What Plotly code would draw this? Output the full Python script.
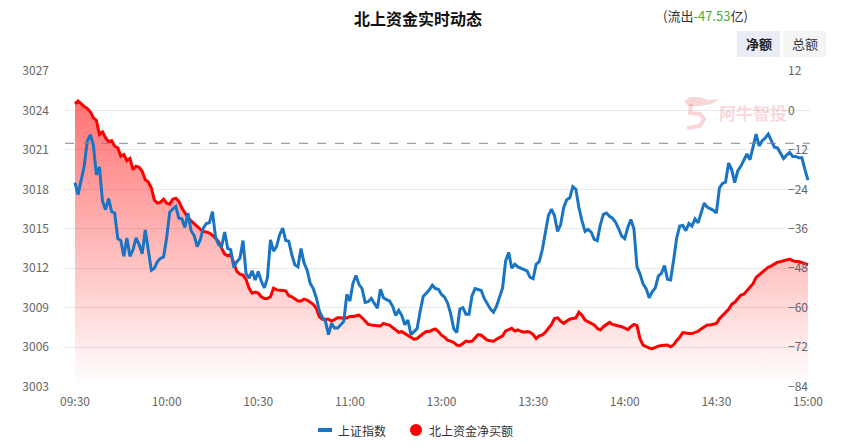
import plotly.graph_objects as go

# ---------------- data ----------------
# minutes since 09:30 on the trading clock (lunch break removed; 120 = 11:30/13:00)
tick_minutes = [0, 30, 60, 90, 120, 150, 180, 210, 240]
tick_labels = ["09:30", "10:00", "10:30", "11:00", "13:00", "13:30", "14:00", "14:30", "15:00"]

left_ticks = [3003, 3006, 3009, 3012, 3015, 3018, 3021, 3024, 3027]
right_ticks = [-84, -72, -60, -48, -36, -24, -12, 0, 12]
prev_close = 3021.5
net_flow_total = "-47.53"

index_min = [0, 1, 3, 4, 5, 6, 7, 8, 9, 10, 11, 12, 13, 14, 15, 16, 17, 18, 19, 20,
             21, 22, 23, 24, 25, 26, 27, 28, 29, 30, 31, 32, 33, 34, 35, 36, 37, 38, 39, 40,
             41, 42, 43, 44, 45, 46, 47, 48, 49, 50, 51, 52, 53, 54, 55, 56, 57, 58, 59, 60,
             61, 62, 63, 64, 65, 66, 67, 68, 69, 70, 71, 72, 73, 74, 75, 76, 77, 78, 79, 80,
             81, 82, 83, 84, 85, 86, 87, 88, 89, 90, 91, 92, 93, 94, 95, 96, 97, 98, 99, 100,
             101, 102, 103, 104, 105, 106, 107, 108, 109, 110, 111, 112, 113, 114, 115, 116, 117, 118, 119, 120,
             121, 122, 123, 124, 125, 126, 127, 128, 129, 130, 131, 132, 133, 134, 135, 136, 137, 138, 139, 140,
             141, 142, 143, 144, 145, 146, 147, 148, 149, 150, 151, 152, 153, 154, 155, 156, 157, 158, 159, 160,
             161, 162, 163, 164, 165, 166, 167, 168, 169, 170, 171, 172, 173, 174, 175, 176, 177, 178, 179, 180,
             181, 182, 183, 184, 185, 186, 187, 188, 189, 190, 191, 192, 193, 194, 195, 196, 197, 198, 199, 200,
             201, 202, 203, 204, 205, 206, 207, 208, 209, 210, 211, 212, 213, 214, 215, 216, 217, 218, 219, 220,
             221, 222, 223, 224, 225, 226, 227, 228, 229, 230, 231, 232, 233, 234, 235, 236, 237, 238, 239, 240]
index_val = [3018.5, 3017.6, 3019.75, 3021.65, 3022.15, 3021.4, 3019.1, 3019.7, 3017.1, 3016.45,
             3017.3, 3016.3, 3016.2, 3014.25, 3014.1, 3012.9, 3014.3, 3012.9, 3013.4, 3014.3,
             3013.8, 3013.1, 3014.9, 3013.5, 3011.85, 3012.0, 3012.5, 3012.75, 3012.85, 3014.3,
             3016.25, 3016.5, 3016.7, 3015.8, 3015.75, 3015.1, 3016.2, 3014.85, 3014.5, 3013.65,
             3014.15, 3015.05, 3015.4, 3015.45, 3016.3, 3014.4, 3013.8, 3013.65, 3014.75, 3013.5,
             3013.4, 3012.05, 3012.5, 3012.75, 3014.1, 3011.6, 3011.25, 3011.8, 3011.1, 3011.75,
             3011.0, 3010.5, 3011.25, 3014.15, 3013.3, 3013.65, 3014.55, 3015.05, 3014.1, 3014.05,
             3013.0, 3012.25, 3012.1, 3013.5, 3012.4, 3011.85, 3010.85, 3010.45, 3009.75, 3008.75,
             3008.25, 3007.95, 3006.95, 3007.8, 3007.45, 3007.45, 3007.7, 3007.95, 3010.0, 3009.5,
             3010.85, 3011.45, 3010.75, 3010.45, 3009.4, 3009.45, 3009.7, 3009.35, 3008.95, 3010.4,
             3009.75, 3009.6, 3009.5, 3009.1, 3008.4, 3008.8, 3008.4, 3007.7, 3008.05, 3006.95,
             3007.2, 3007.4, 3008.7, 3009.85, 3010.1, 3010.35, 3010.7, 3010.45, 3010.4, 3010.0,
             3009.8, 3009.35, 3008.55, 3007.4, 3007.1, 3008.9, 3009.0, 3008.5, 3008.5, 3009.9,
             3010.45, 3010.4, 3010.3, 3009.7, 3009.3, 3008.9, 3008.65, 3009.1, 3009.8, 3010.5,
             3012.55, 3013.2, 3012.0, 3012.3, 3012.1, 3012.0, 3011.95, 3011.8, 3011.3, 3011.2,
             3012.3, 3012.5, 3013.4, 3014.8, 3016.0, 3016.5, 3016.0, 3014.8, 3015.3, 3016.6,
             3017.2, 3017.35, 3018.2, 3018.0, 3016.6, 3015.6, 3014.8, 3014.95, 3014.75, 3014.2,
             3014.1, 3015.3, 3016.1, 3016.2, 3015.95, 3015.8, 3015.5, 3015.0, 3014.45, 3014.25,
             3015.1, 3015.7, 3015.0, 3012.1, 3011.55, 3010.8, 3010.45, 3009.75, 3010.2, 3010.5,
             3011.4, 3011.6, 3012.2, 3011.15, 3011.1, 3012.6, 3014.3, 3015.2, 3015.25, 3014.85,
             3015.4, 3015.2, 3015.75, 3015.45, 3016.3, 3016.95, 3016.65, 3016.55, 3016.4, 3016.2,
             3018.1, 3018.45, 3018.55, 3020.0, 3019.5, 3018.5, 3019.4, 3019.75, 3020.2, 3020.7,
             3020.25, 3021.3, 3022.2, 3021.3, 3021.7, 3021.9, 3022.2, 3021.7, 3021.2, 3021.15,
             3020.7, 3020.35, 3020.6, 3020.8, 3020.5, 3020.5, 3020.4, 3020.4, 3019.5, 3018.7]

flow_min = index_min[:]
flow_val = [2.0, 2.85, 1.2, 0.6, -0.4, -2.2, -3.05, -7.3, -6.5, -8.3,
            -9.6, -9.2, -10.9, -11.4, -13.9, -13.4, -15.3, -14.6, -18.0, -17.0,
            -17.3, -18.5, -21.1, -21.8, -23.6, -27.3, -28.2, -27.9, -27.0, -28.2,
            -28.5, -27.0, -26.7, -27.7, -29.7, -31.2, -32.6, -33.6, -34.6, -35.3,
            -36.1, -36.8, -37.0, -37.3, -38.0, -38.9, -39.9, -41.9, -43.7, -44.2,
            -43.7, -46.5, -49.0, -49.8, -50.1, -51.4, -54.1, -55.6, -55.3, -55.6,
            -56.7, -57.2, -57.2, -56.7, -54.1, -54.6, -54.8, -54.8, -54.9, -56.4,
            -56.7, -57.4, -58.0, -58.0, -57.4, -57.7, -58.4, -59.0, -60.2, -62.8,
            -63.5, -63.5, -63.5, -64.1, -63.5, -63.1, -63.1, -63.3, -63.1, -62.7,
            -62.7, -62.5, -62.3, -63.1, -64.1, -65.1, -65.3, -65.5, -65.5, -65.6,
            -64.8, -65.1, -65.3, -66.1, -66.8, -67.5, -67.3, -67.9, -68.4, -69.2,
            -69.6, -69.4, -68.6, -67.9, -67.3, -67.3, -66.8, -66.5, -67.3, -68.4,
            -69.0, -69.9, -70.2, -70.6, -71.4, -71.6, -70.9, -70.2, -70.4, -70.2,
            -69.2, -68.2, -68.4, -69.2, -69.9, -70.1, -70.2, -69.6, -69.0, -68.6,
            -67.1, -66.8, -66.3, -67.1, -66.8, -67.2, -67.5, -67.3, -67.5, -68.2,
            -69.4, -68.6, -68.3, -67.5, -66.3, -65.1, -63.3, -63.1, -64.1, -64.8,
            -64.1, -63.5, -63.3, -63.1, -61.4, -62.3, -63.8, -64.3, -64.8, -65.3,
            -66.3, -66.8, -65.8, -65.1, -64.5, -65.1, -65.3, -65.5, -65.8, -66.2,
            -66.7, -65.8, -65.1, -65.5, -69.5, -71.4, -71.9, -72.3, -72.5, -72.0,
            -71.7, -71.5, -71.4, -71.4, -71.9, -71.3, -70.0, -69.0, -67.6, -67.8,
            -67.9, -67.9, -67.6, -67.2, -66.5, -66.0, -65.3, -65.3, -65.1, -64.8,
            -63.4, -62.4, -61.4, -60.5, -59.0, -58.4, -57.3, -56.2, -55.9, -54.9,
            -53.9, -52.7, -50.8, -50.0, -49.2, -48.4, -47.7, -47.3, -46.7, -46.2,
            -46.0, -45.8, -45.5, -45.2, -45.7, -46.0, -46.0, -46.4, -46.6, -46.9]

series_names = ["上证指数", "北上资金净买额"]
title_text = "北上资金实时动态"

# ---------------- layout helpers ----------------
W, H = 849, 448
def px(x):
    return x / W
def py(y):
    return 1 - y / H

FONT = "Noto Sans CJK SC, Microsoft YaHei, sans-serif"
BLUE = "#1a74c4"
RED = "#ff0000"

fig = go.Figure()

# flow (right-hand scale) lives on the base y axis so the index line is drawn above it
base = min(right_ticks)
fig.add_trace(go.Scatter(x=[flow_min[0], flow_min[-1]], y=[base, base], yaxis="y",
                         mode="lines", line=dict(width=0), hoverinfo="skip", showlegend=False))
fig.add_trace(go.Scatter(x=flow_min, y=flow_val, yaxis="y", mode="lines",
                         name=series_names[1], line=dict(color=RED, width=3),
                         fill="tonexty",
                         fillgradient=dict(type="vertical", start=base, stop=max(flow_val),
                                           colorscale=[[0, "rgba(255,0,0,0.0)"],
                                                       [0.45, "rgba(255,0,0,0.25)"],
                                                       [1, "rgba(255,0,0,0.55)"]]),
                         showlegend=False))
fig.add_trace(go.Scatter(x=index_min, y=index_val, yaxis="y2", mode="lines",
                         name=series_names[0], line=dict(color=BLUE, width=3), showlegend=False))

x0d, x1d = 65, 810
m_per_px = (tick_minutes[-1] - tick_minutes[0]) / (808 - 75)
xr = [tick_minutes[0] - (75 - x0d) * m_per_px, tick_minutes[-1] + (x1d - 808) * m_per_px]
y_top, y_bot = 71, 386.5

fig.update_layout(
    width=W, height=H,
    margin=dict(l=0, r=0, t=0, b=0),
    paper_bgcolor="white", plot_bgcolor="white",
    font=dict(family=FONT, color="#666", size=12),
    showlegend=False,
    xaxis=dict(domain=[px(x0d), px(x1d)], range=xr, tickvals=tick_minutes, ticktext=tick_labels,
               showgrid=False, zeroline=False, showline=False, ticks="",
               ticklabelstandoff=6, automargin=False, tickfont=dict(size=12, color="#666")),
    yaxis=dict(domain=[py(y_bot), py(y_top)], range=[min(right_ticks), max(right_ticks)],
               tickvals=right_ticks, ticktext=[str(v).replace("-", "−") for v in right_ticks],
               anchor="free", position=px(787), side="right",
               showgrid=True, gridcolor="#e9e9e9", gridwidth=1,
               zeroline=False, showline=False, ticks="",
               automargin=False, tickfont=dict(size=12, color="#666")),
    yaxis2=dict(overlaying="y", anchor="x", side="left",
                range=[min(left_ticks), max(left_ticks)], tickvals=left_ticks,
                showgrid=False, zeroline=False, showline=False, ticks="", ticklabelstandoff=15,
                automargin=False, tickfont=dict(size=12, color="#666")),
)

# previous close dashed line
fig.add_shape(type="line", xref="paper", yref="y2", x0=px(x0d), x1=px(x1d),
              y0=prev_close, y1=prev_close, line=dict(color="#888", width=1, dash="dash"))

def label(x, y, text, size, color, xanchor="center"):
    fig.add_annotation(x=px(x), y=py(y), xref="paper", yref="paper", text=text,
                       xanchor=xanchor, yanchor="middle", showarrow=False,
                       font=dict(size=size, color=color, family=FONT))

# watermark
wm = "rgba(236,120,120,0.30)"
label(753, 113, "<b>阿牛智投</b>", 17, wm)
head = [(684, 101), (690, 97), (700, 97), (708, 100), (720, 99), (712, 104), (700, 106), (688, 106)]
fig.add_shape(type="path", xref="paper", yref="paper",
              path="M " + " L ".join(f"{px(a):.5f},{py(b):.5f}" for a, b in head) + " Z",
              fillcolor=wm, line=dict(width=0))
stroke = [(691, 104), (690, 113), (700, 114), (704, 119), (700, 126), (687, 128)]
fig.add_shape(type="path", xref="paper", yref="paper",
              path="M " + " L ".join(f"{px(a):.5f},{py(b):.5f}" for a, b in stroke),
              line=dict(color=wm, width=4))

# title
label(418, 18, "<b>" + title_text + "</b>", 16, "#111")
label(705, 15, "(流出<span style='color:#4caa3c'>" + net_flow_total + "</span>亿)", 13, "#333")

# buttons
fig.add_shape(type="rect", xref="paper", yref="paper", x0=px(737), x1=px(780), y0=py(57), y1=py(31),
              fillcolor="#e8ecf5", line=dict(width=0))
fig.add_shape(type="rect", xref="paper", yref="paper", x0=px(783), x1=px(826), y0=py(57), y1=py(31),
              fillcolor="#f4f4f4", line=dict(width=0))
label(758.5, 44, "<b>净额</b>", 13, "#222")
label(804.5, 44, "总额", 13, "#333")

# legend
fig.add_shape(type="line", xref="paper", yref="paper", x0=px(318), x1=px(332), y0=py(430), y1=py(430),
              line=dict(color=BLUE, width=4))
label(336, 430, series_names[0], 12, "#333", "left")
fig.add_shape(type="circle", xref="paper", yref="paper", x0=px(410), x1=px(422), y0=py(436), y1=py(424),
              fillcolor=RED, line=dict(width=0))
label(427, 430, series_names[1], 12, "#333", "left")

fig.write_html("out.html")
